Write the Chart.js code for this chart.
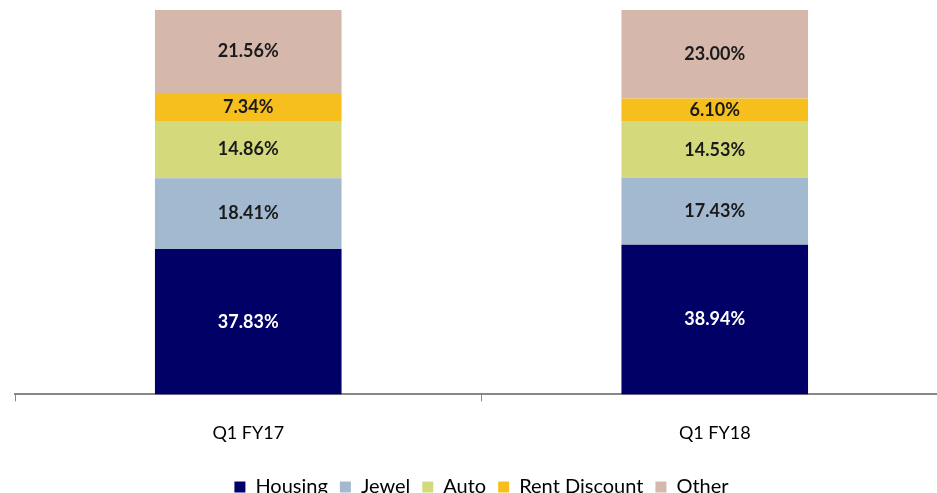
<!DOCTYPE html>
<html>
<head>
<meta charset="utf-8">
<script src="https://cdn.jsdelivr.net/npm/chart.js@4"></script>
<style>
  html, body { margin: 0; padding: 0; background: #fff; overflow: hidden; }
  #wrap { width: 937px; height: 493px; overflow: hidden; }
</style>
</head>
<body>
<div id="wrap"><canvas id="c" width="948" height="507"></canvas></div>
<script>
const categories = ['Q1 FY17', 'Q1 FY18'];
const housing = [37.83, 38.94];
const jewel = [18.41, 17.43];
const auto = [14.86, 14.53];
const rentDiscount = [7.34, 6.10];
const other = [21.56, 23.00];

const FONT = 'Lato, "Noto Sans", sans-serif';

// draws the % label in the middle of every segment
const segmentLabels = {
    id: 'segmentLabels',
    afterDatasetsDraw(chart) {
        const ctx = chart.ctx;
        ctx.save();
        ctx.font = `bold 18px ${FONT}`;
        ctx.textAlign = 'center';
        ctx.textBaseline = 'middle';
        chart.data.datasets.forEach((ds, i) => {
            chart.getDatasetMeta(i).data.forEach((bar, j) => {
                ctx.fillStyle = i === 0 ? '#ffffff' : '#1a1a1a';
                ctx.fillText(ds.data[j].toFixed(2) + '%', bar.x, (bar.y + bar.base) / 2);
            });
        });
        ctx.restore();
    }
};

const series = [
    { label: 'Housing', data: housing, color: '#000066' },
    { label: 'Jewel', data: jewel, color: '#A2B9D0' },
    { label: 'Auto', data: auto, color: '#D4DA7C' },
    { label: 'Rent Discount', data: rentDiscount, color: '#F7BF1E' },
    { label: 'Other', data: other, color: '#D5B7AB' }
];

new Chart(document.getElementById('c'), {
    type: 'bar',
    data: {
        labels: categories,
        datasets: series.map((s) => ({
            label: s.label,
            data: s.data,
            backgroundColor: s.color,
            borderWidth: 0,
            barPercentage: 0.8,
            categoryPercentage: 0.5
        }))
    },
    options: {
        responsive: false,
        animation: false,
        devicePixelRatio: 1,
        layout: { padding: { left: 15, top: 10, right: 0, bottom: 0 } },
        scales: {
            x: {
                stacked: true,
                grid: { drawOnChartArea: false, drawTicks: true, tickLength: 7, color: '#888888', offset: true },
                border: { color: '#888888', width: 2 },
                ticks: { color: '#000', font: { family: FONT, size: 18 }, padding: 21 }
            },
            y: {
                stacked: true,
                display: false,
                min: 0,
                max: 100
            }
        },
        plugins: {
            tooltip: { enabled: false },
            legend: {
                position: 'bottom',
                labels: {
                    boxWidth: 11,
                    boxHeight: 11,
                    padding: 12,
                    color: '#000',
                    font: { family: FONT, size: 20 }
                }
            }
        }
    },
    plugins: [segmentLabels]
});
</script>
</body>
</html>
